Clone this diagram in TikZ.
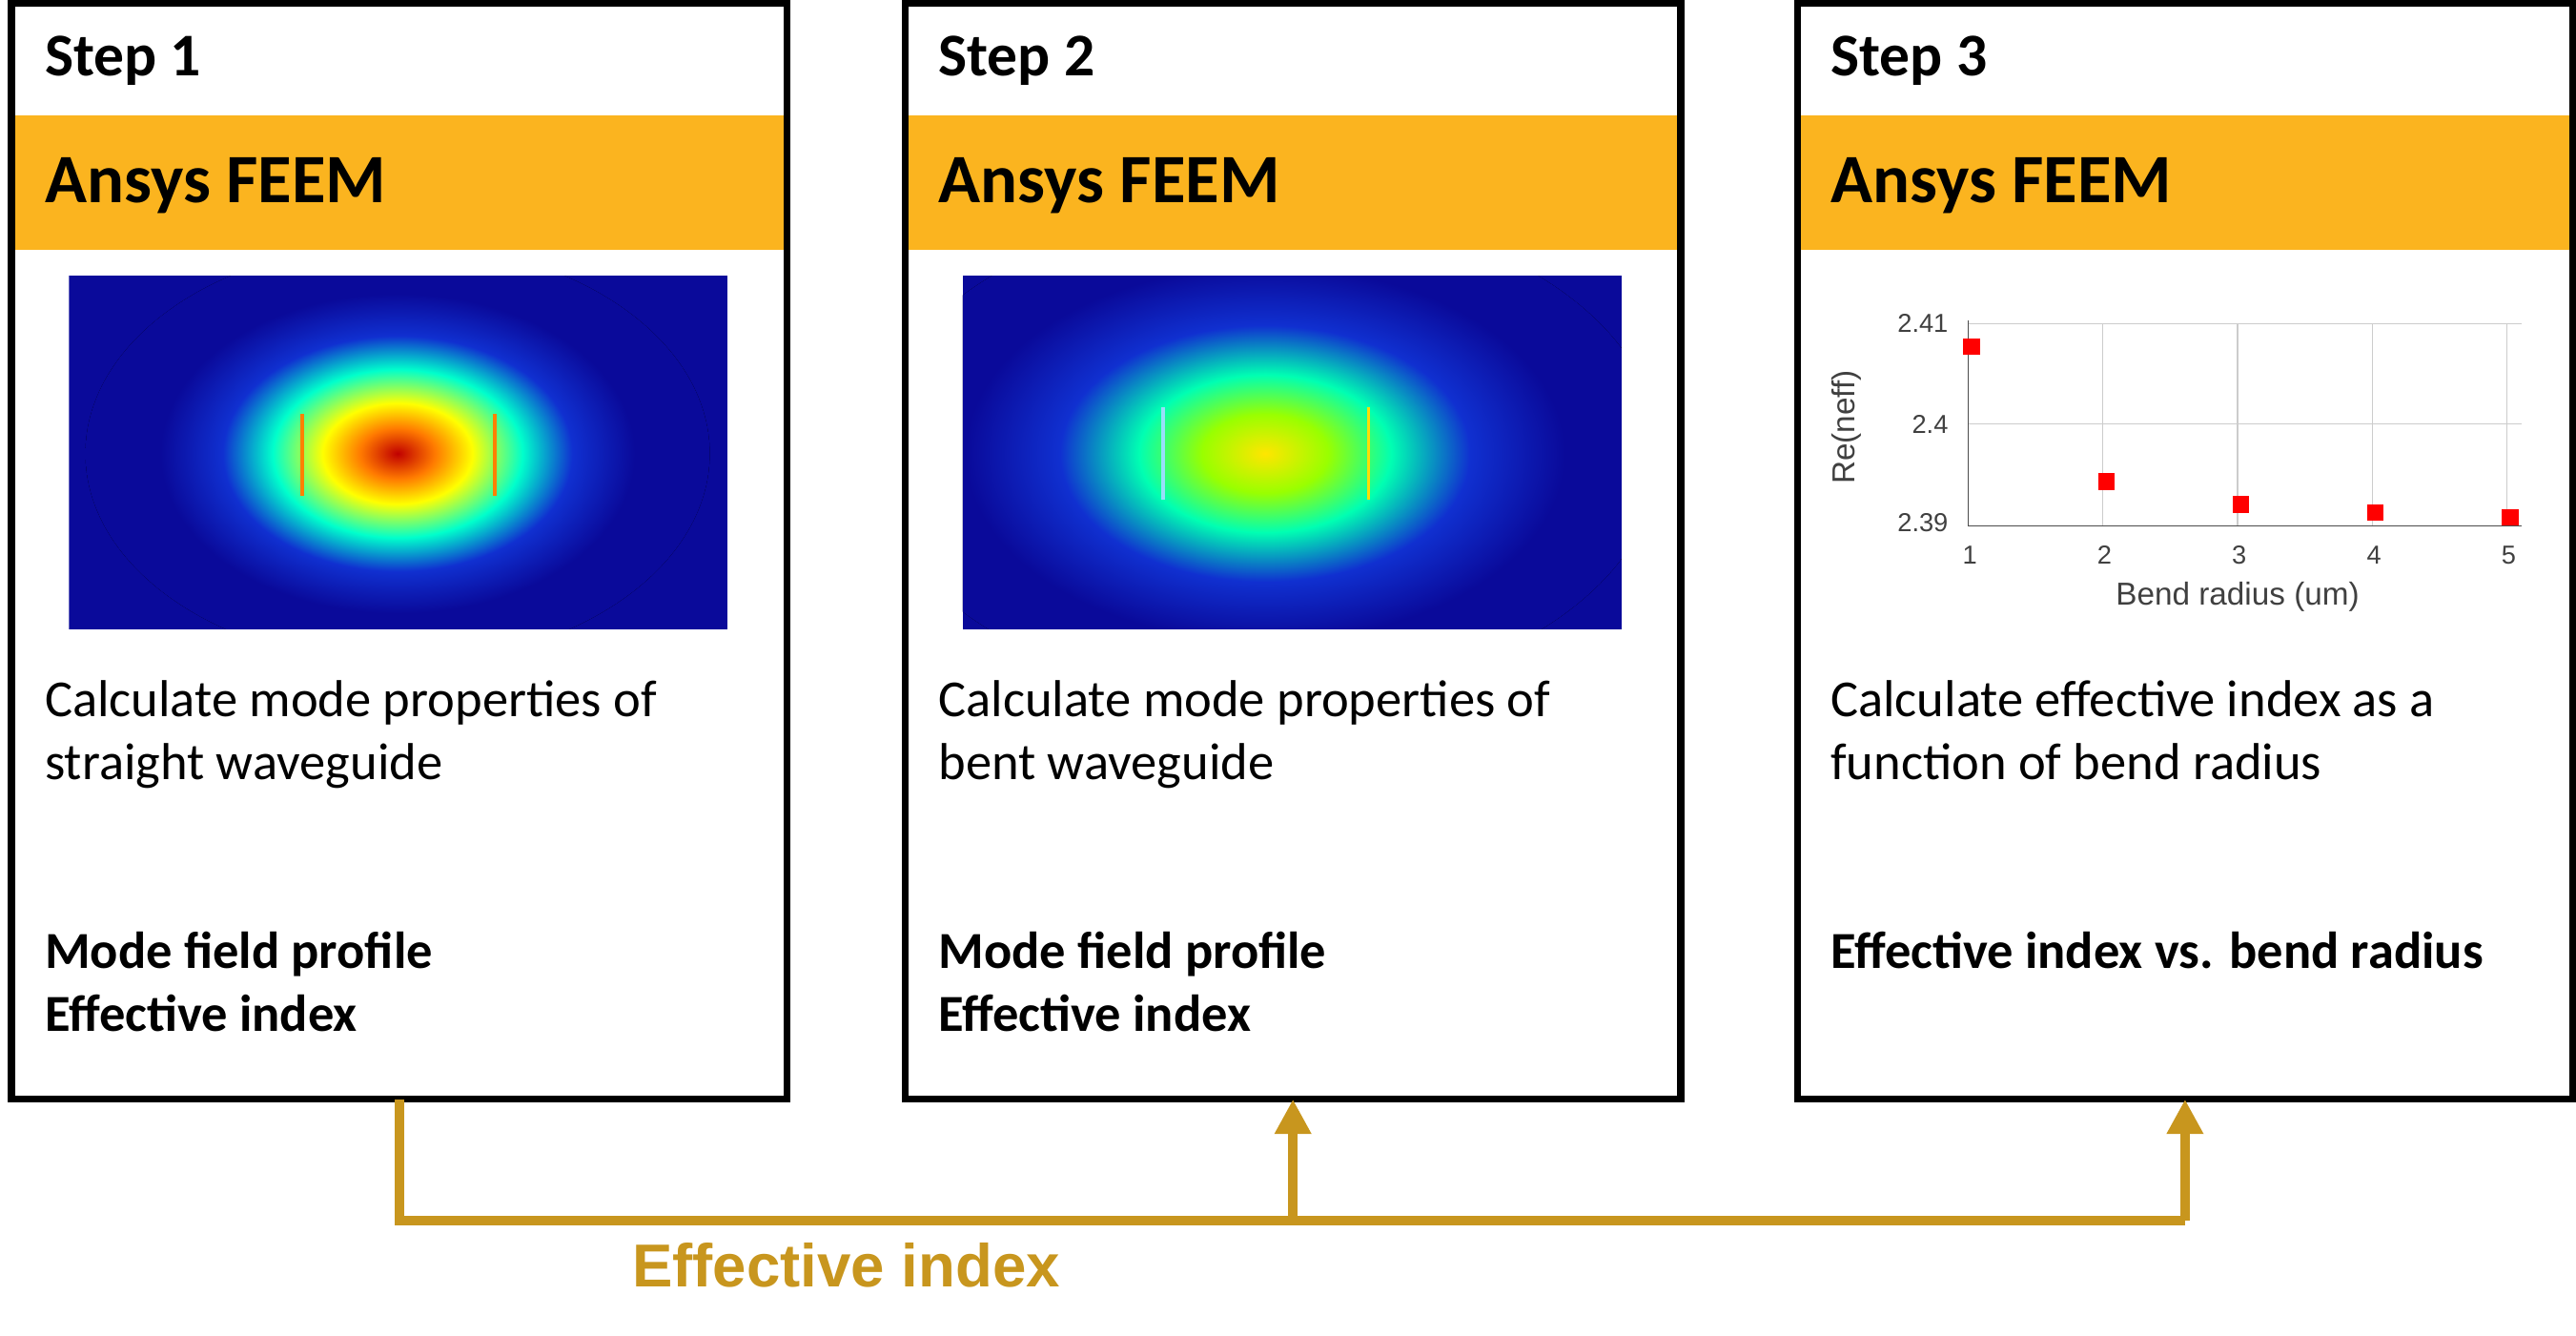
\documentclass[tikz,border=0pt]{standalone}
\usetikzlibrary{arrows.meta}
\usepackage{fontspec}
\setmainfont{Carlito}
\newfontfamily\arialf{Liberation Sans}
\definecolor{band}{HTML}{FBB41F}
\definecolor{arr}{HTML}{C8961E}
\definecolor{jdark}{HTML}{0A0A9A}
\definecolor{jblue}{HTML}{1030D0}
\definecolor{jred}{HTML}{C00000}
\definecolor{jor}{HTML}{FF7A00}
\pgfdeclareradialshading{jetA}{\pgfpoint{0bp}{0bp}}{color(0bp)=(jred); color(3bp)=(jor); color(6bp)=(yellow); color(10bp)=(cyan!80!green); color(14bp)=(jblue); color(19bp)=(jdark); color(50bp)=(jdark)}
\pgfdeclareradialshading{jetB}{\pgfpoint{0bp}{0bp}}{color(0bp)=(yellow!80!orange); color(4bp)=(yellow!60!green); color(8bp)=(cyan!70!green); color(13bp)=(jblue); color(19bp)=(jdark); color(50bp)=(jdark)}
\tikzset{
 stepbox/.style={draw=black,line width=2.4pt},
 steplbl/.style={anchor=west,inner sep=0pt,font=\fontsize{21}{23}\selectfont\bfseries},
 bandlbl/.style={anchor=west,inner sep=0pt,font=\fontsize{24}{26}\selectfont\bfseries},
 desc/.style={anchor=north west,align=left,font=\fontsize{18}{21.6}\selectfont,inner sep=0pt},
 outp/.style={anchor=north west,align=left,font=\fontsize{18}{21.6}\selectfont\bfseries,inner sep=0pt},
 conn/.style={draw=arr,line width=3.4pt},
 tick/.style={font=\arialf\fontsize{9}{10}\selectfont,text=black!75},
}
\begin{document}
\begin{tikzpicture}[x=0.02cm,y=-0.02cm]
\useasboundingbox (0,0) rectangle (1568,813);
\foreach \x/\n in {7/1,551/2,1094/3}{
  \fill[band] (\x,70) rectangle (\x+472,152);
  \draw[stepbox] (\x,2) rectangle (\x+472,669);
  \node[steplbl] at (\x+20,37) {Step \n};
  \node[bandlbl] at (\x+20,113) {Ansys FEEM};
}
\node (b1) at (243,669) {}; \node (b2) at (787,669) {}; \node (b3) at (1330,669) {};
% field images
\begin{scope}
\clip (42,168) rectangle (443,383);
\fill[jdark] (42,168) rectangle (443,383);
\fill[shading=jetA] (242,276) ellipse [x radius=190, y radius=128];
\end{scope}
\draw[orange,line width=1.2pt] (184,252) -- (184,302) (301,252) -- (301,302);
\begin{scope}
\clip (586,168) rectangle (987,383);
\fill[jdark] (586,168) rectangle (987,383);
\fill[shading=jetB] (770,276) ellipse [x radius=240, y radius=150];
\end{scope}
\draw[cyan!40!white,line width=1.2pt] (708,248) -- (708,304);
\draw[yellow!80!orange,line width=1.2pt] (833,248) -- (833,304);
% plot
\draw[black!20] (1198,258) -- (1535,258) (1198,197) -- (1535,197);
\foreach \x in {1280,1362,1444,1526} \draw[black!20] (\x,197) -- (\x,320);
\draw[black!70,line width=0.6pt] (1198,195) -- (1198,320) -- (1535,320);
\foreach \y/\l in {197/2.41,258/2.4,318/2.39} \node[tick,anchor=east] at (1192,\y) {\l};
\foreach \x/\l in {1199/1,1281/2,1363/3,1445/4,1527/5} \node[tick] at (\x,338) {\l};
\foreach \x/\y in {1200/211,1282/293,1364/307,1446/312,1528/315} \fill[red] (\x-5,\y-5) rectangle (\x+5,\y+5);
\node[tick,font=\arialf\fontsize{11}{12}\selectfont,rotate=90] at (1124,260) {Re(neff)};
\node[tick,font=\arialf\fontsize{11}{12}\selectfont] at (1362,363) {Bend radius (um)};
% texts
\node[desc] at (27,414) {Calculate mode properties of\\straight waveguide};
\node[desc] at (571,414) {Calculate mode properties of\\bent waveguide};
\node[desc] at (1114,414) {Calculate effective index as a\\function of bend radius};
\node[outp] at (27,567) {Mode field profile\\Effective index};
\node[outp] at (571,567) {Mode field profile\\Effective index};
\node[outp] at (1114,567) {Effective index vs. bend radius};
% connectors
\coordinate (j1) at (243,743); \coordinate (j2) at (787,743); \coordinate (j3) at (1330,743);
\draw[conn] (b1.center) -- (j1) -- (j3);
\draw[conn,-{Triangle[length=12pt,width=12pt]}] (j2) -- (b2.center);
\draw[conn,-{Triangle[length=12pt,width=12pt]}] (j3) -- (b3.center);
\node[font=\arialf\fontsize{21}{22}\selectfont\bfseries,text=arr] at (515,770) {Effective index};
\end{tikzpicture}
\end{document}
